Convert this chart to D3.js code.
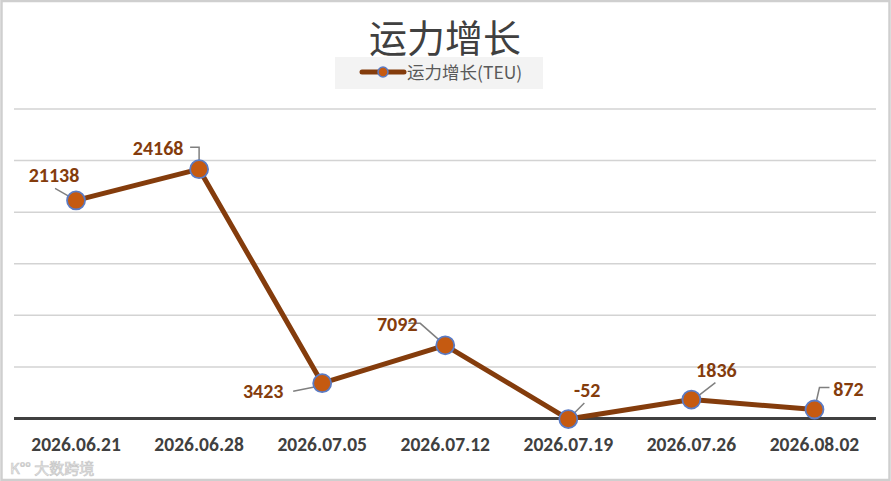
<!DOCTYPE html>
<html><head><meta charset="utf-8">
<script src="https://cdn.jsdelivr.net/npm/d3@7/dist/d3.min.js"></script>
<style>body{margin:0;background:#fff;}svg{display:block;}</style>
</head><body>
<svg id="c" width="891" height="481"></svg>
<script>
const categories = ["2026.06.21","2026.06.28","2026.07.05","2026.07.12","2026.07.19","2026.07.26","2026.08.02"];
const values = [21138, 24168, 3423, 7092, -52, 1836, 872];
const yTicks = [0, 5000, 10000, 15000, 20000, 25000, 30000];
const seriesName = "运力增长(TEU)";
const title = "运力增长";

// label placement (dx, dy of text centre from point; leader polyline relative to point)
const labelLayout = [
  {dx:-22, dy:-25, leader:[[-21,-12],[0,0]]},
  {dx:-41, dy:-21, leader:[[-9,-22],[0,-22],[0,0]]},
  {dx:-59, dy:8,  leader:[[-29,8],[-4,3]]},
  {dx:-48, dy:-21, leader:[[-37,-22],[-25,-22],[0,0]]},
  {dx:19, dy:-29, leader:[[16,-16],[0,0]]},
  {dx:25, dy:-30, leader:[[24,-17],[2,0]]},
  {dx:34, dy:-21, leader:[[15,-22],[5,-22],[0,0]]}
];

const numFont = "Calibri, Carlito, 'Liberation Sans', Arial, sans-serif";
const cjkFont = "'Noto Sans CJK SC', sans-serif";

const svg = d3.select("#c");
const W = 891, H = 481;
svg.append("rect").attr("x",1.5).attr("y",1).attr("width",W-3).attr("height",H-2)
  .attr("fill","#fff").attr("stroke","#cfcfcf").attr("stroke-width",2.5);

const x = d3.scaleBand().domain(categories).range([14.5, 876]);
const y = d3.scaleLinear().domain([0, 30000]).range([418.5, 109]);

// gridlines
svg.append("g").selectAll("line").data(yTicks.filter(t=>t!==0)).join("line")
  .attr("x1",14).attr("x2",876).attr("y1",d=>y(d)).attr("y2",d=>y(d))
  .attr("stroke","#d3d3d3").attr("stroke-width",1.5);

// x axis
const xAxis = svg.append("g").attr("transform",`translate(0,${y(0)})`)
  .call(d3.axisBottom(x).tickSize(0).tickPadding(19));
xAxis.select(".domain").attr("stroke","#404040").attr("stroke-width",3).attr("d","M14,0H876");
xAxis.selectAll("text").attr("font-family",numFont)
  .attr("font-size",19.5).attr("font-weight","bold").attr("fill","#404040");

// title
svg.append("text").attr("x",445).attr("y",52).attr("text-anchor","middle")
  .attr("font-family",cjkFont).attr("font-size",38).attr("fill","#404040").text(title);

// legend
const lg = svg.append("g");
lg.append("rect").attr("x",335).attr("y",57).attr("width",208).attr("height",32).attr("fill","#f3f3f3");
lg.append("line").attr("x1",362).attr("x2",404).attr("y1",72).attr("y2",72)
  .attr("stroke","#843c0c").attr("stroke-width",5).attr("stroke-linecap","round");
lg.append("circle").attr("cx",383).attr("cy",72).attr("r",5).attr("fill","#c55a11").attr("stroke","#5b7bc4").attr("stroke-width",1.5);
lg.append("text").attr("x",407).attr("y",79).attr("font-family",cjkFont)
  .attr("font-size",17.5).attr("fill","#595959").text(seriesName);

// line
const px = (d,i)=> x(categories[i]) + x.bandwidth()/2;
const line = d3.line().x((d,i)=>px(d,i)).y(d=>y(d));
svg.append("path").datum(values).attr("d",line).attr("fill","none")
  .attr("stroke","#843c0c").attr("stroke-width",5).attr("stroke-linejoin","round");

// leaders
svg.append("g").selectAll("polyline").data(values).join("polyline")
  .attr("points",(d,i)=>labelLayout[i].leader.map(p=>[px(d,i)+p[0], y(d)+p[1]].join(",")).join(" "))
  .attr("fill","none").attr("stroke","#7f7f7f").attr("stroke-width",1.5);

// markers
svg.append("g").selectAll("circle").data(values).join("circle")
  .attr("cx",(d,i)=>px(d,i)).attr("cy",d=>y(d)).attr("r",9)
  .attr("fill","#c55a11").attr("stroke","#5b7bc4").attr("stroke-width",1.8);

// labels
svg.append("g").selectAll("text").data(values).join("text")
  .attr("x",(d,i)=>px(d,i)+labelLayout[i].dx).attr("y",(d,i)=>y(d)+labelLayout[i].dy+7)
  .attr("text-anchor","middle")
  .attr("font-family",numFont)
  .attr("font-size",20).attr("font-weight","bold").attr("fill","#843c0c").text(d=>d);

// watermark
svg.append("text").attr("x",10).attr("y",474).attr("font-family",cjkFont)
  .attr("font-size",15).attr("fill","#eeeeee").attr("stroke","#c8c8c8").attr("stroke-width",0.7)
  .text("K°° 大数跨境");
</script>
</body></html>
